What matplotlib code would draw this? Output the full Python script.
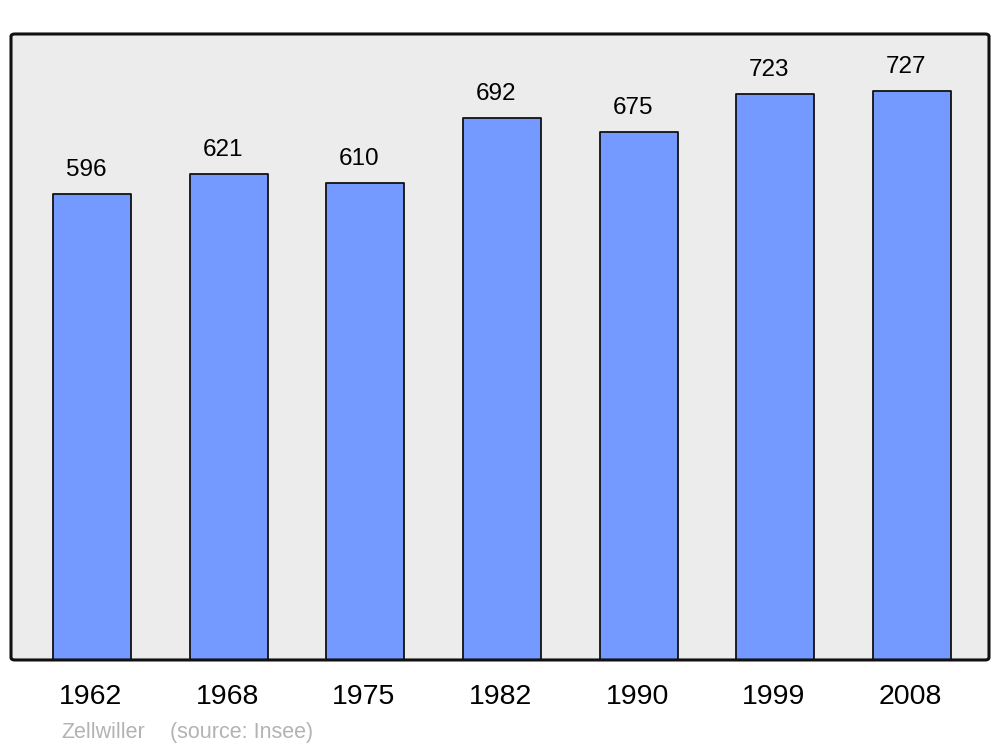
import matplotlib
matplotlib.use('Agg')
import matplotlib.pyplot as plt
from matplotlib.patches import FancyBboxPatch

years = ['1962', '1968', '1975', '1982', '1990', '1999', '2008']
population = [596, 621, 610, 692, 675, 723, 727]
place = 'Zellwiller'
source = '(source: Insee)'

plt.rcParams['font.family'] = ['Liberation Sans', 'DejaVu Sans']

fig = plt.figure(figsize=(10, 7.47), dpi=100)
ax = fig.add_axes([0.011, 0.1165, 0.978, 0.838])
ax.patch.set_visible(False)
for s in ax.spines.values():
    s.set_visible(False)

# rounded grey panel + border
bg = FancyBboxPatch((0, 0), 1, 1, boxstyle='round,pad=0,rounding_size=0.004',
                    transform=ax.transAxes, facecolor='#ececec', edgecolor='none',
                    zorder=0, clip_on=False)
ax.add_patch(bg)
frame = FancyBboxPatch((0, 0), 1, 1, boxstyle='round,pad=0,rounding_size=0.004',
                       transform=ax.transAxes, facecolor='none', edgecolor='#111111',
                       linewidth=2.2, zorder=5, clip_on=False)
ax.add_patch(frame)

x = range(len(years))
bars = ax.bar(x, population, width=0.57, color='#7499ff', edgecolor='#111111',
              linewidth=1.3, zorder=2)
for b in bars:
    b.set_joinstyle('round')

for xi, v in zip(x, population):
    ax.annotate(str(v), (xi, v), xytext=(-4.3, 13), textcoords='offset points',
                ha='center', va='baseline', fontsize=17.5, color='black')

ax.set_xlim(-0.593, 6.563)
ax.set_ylim(0, 800)
ax.set_yticks([])
ax.set_xticks([xi - 0.012 for xi in x])
ax.set_xticklabels(years, fontsize=20.5)
ax.tick_params(axis='x', length=0, pad=17)

fig.text(0.061, 0.0125, place, fontsize=15.5, color='#b3b3b3', va='baseline')
fig.text(0.170, 0.0125, source, fontsize=15.5, color='#b3b3b3', va='baseline')

fig.savefig('out.png', dpi=100)
